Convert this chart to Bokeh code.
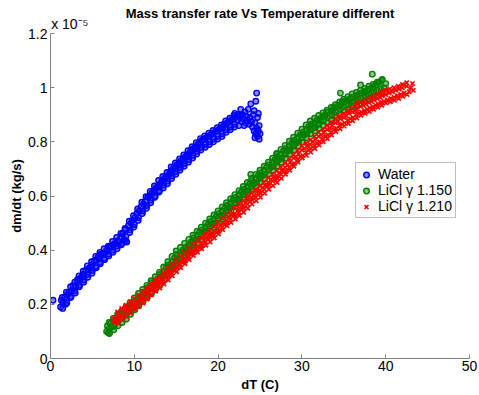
from bokeh.plotting import figure
from bokeh.models import Legend, LegendItem, FixedTicker, LinearAxis
from bokeh.embed import file_html
from bokeh.resources import INLINE

# dT (C), dm/dt (x 1e-5 kg/s)
water_pts = [(0.3, 0.215),
    (1.2, 0.19), (1.3, 0.215), (1.5, 0.205), (1.7, 0.225), (1.8, 0.20), (2.0, 0.235),
    (2.2, 0.245), (2.4, 0.225), (2.5, 0.25), (2.7, 0.27), (2.9, 0.25), (3.0, 0.265),
    (3.2, 0.29), (3.4, 0.27), (3.5, 0.295), (3.7, 0.30), (3.9, 0.31), (4.0, 0.29),
    (4.2, 0.325), (4.4, 0.31), (4.5, 0.33), (4.7, 0.335), (4.9, 0.345), (5.0, 0.325),
    (5.2, 0.36), (5.4, 0.34), (5.5, 0.365), (5.7, 0.375), (5.9, 0.355), (6.0, 0.385),
    (6.2, 0.385), (6.4, 0.37), (6.5, 0.39), (6.7, 0.40), (6.9, 0.385), (7.0, 0.41),
    (7.2, 0.415), (7.4, 0.40), (7.5, 0.42), (7.7, 0.425), (7.9, 0.415), (8.0, 0.435),
    (8.2, 0.43), (8.4, 0.45), (8.5, 0.425), (8.6, 0.46), (8.8, 0.44), (8.9, 0.475),
    (9.0, 0.45), (9.1, 0.43), (9.3, 0.49), (9.5, 0.475), (9.6, 0.50), (9.8, 0.51),
    (10.0, 0.495), (10.1, 0.52), (10.3, 0.535), (10.5, 0.52), (10.6, 0.545), (10.8, 0.56),
    (11.0, 0.545), (11.1, 0.57), (11.3, 0.58), (11.5, 0.565), (11.6, 0.595), (11.8, 0.60),
    (12.0, 0.585), (12.1, 0.61), (12.3, 0.62), (12.5, 0.60), (12.6, 0.63), (12.8, 0.635),
    (13.0, 0.62), (13.1, 0.645), (13.3, 0.655), (13.5, 0.64), (13.6, 0.665), (13.8, 0.67),
    (14.0, 0.655), (14.1, 0.68), (14.3, 0.69), (14.5, 0.675), (14.6, 0.70), (14.8, 0.705),
    (15.0, 0.69), (15.1, 0.715), (15.3, 0.72), (15.5, 0.705), (15.6, 0.73), (15.8, 0.735),
    (16.0, 0.72), (16.1, 0.745), (16.3, 0.75), (16.5, 0.735), (16.6, 0.76), (16.8, 0.77),
    (17.0, 0.75), (17.1, 0.775), (17.3, 0.78), (17.5, 0.765), (17.6, 0.79), (17.8, 0.795),
    (18.0, 0.78), (18.1, 0.805), (18.3, 0.81), (18.5, 0.79), (18.6, 0.815), (18.8, 0.82),
    (19.0, 0.80), (19.1, 0.825), (19.3, 0.83), (19.5, 0.81), (19.6, 0.835), (19.8, 0.84),
    (20.0, 0.82), (20.1, 0.845), (20.3, 0.85), (20.5, 0.83), (20.6, 0.855), (20.8, 0.865),
    (21.0, 0.845), (21.1, 0.87), (21.3, 0.875), (21.5, 0.855), (21.6, 0.88), (21.8, 0.885),
    (22.0, 0.865), (22.1, 0.89), (22.0, 0.905), (22.3, 0.88), (22.4, 0.90), (22.5, 0.86),
    (22.6, 0.895), (22.7, 0.92), (22.8, 0.875), (22.9, 0.90), (23.0, 0.885), (23.1, 0.86),
    (23.2, 0.91), (23.3, 0.87), (23.4, 0.895), (23.5, 0.88), (23.6, 0.92), (23.7, 0.865),
    (23.8, 0.89), (23.9, 0.94), (24.0, 0.875), (24.1, 0.855), (24.2, 0.90), (24.3, 0.84),
    (24.3, 0.915), (24.4, 0.87), (24.5, 0.83), (24.5, 0.95), (24.6, 0.85), (24.6, 0.98),
    (24.7, 0.82), (24.7, 0.89), (24.8, 0.84), (24.9, 0.81), (24.9, 0.86), (25.0, 0.83),
    (24.8, 0.905), (24.4, 0.815)]

water_edge_pts = [
    (1.4, 0.225), (1.45, 0.185), (1.9, 0.245), (1.95, 0.205), (2.4, 0.265), (2.45, 0.228),
    (2.9, 0.282), (2.95, 0.242), (3.4, 0.305), (3.45, 0.265), (3.9, 0.322), (3.95, 0.282),
    (4.4, 0.342), (4.45, 0.30), (4.9, 0.357), (4.95, 0.315), (5.4, 0.377), (5.45, 0.335),
    (5.9, 0.392), (5.95, 0.35), (6.4, 0.405), (6.45, 0.365), (6.9, 0.415), (6.95, 0.378),
    (7.4, 0.432), (7.45, 0.392), (7.9, 0.447), (7.95, 0.405), (8.4, 0.462), (8.45, 0.42),
    (8.9, 0.48), (8.95, 0.435), (9.4, 0.507), (9.45, 0.465), (9.9, 0.527), (9.95, 0.485),
    (10.4, 0.552), (10.45, 0.51), (10.9, 0.577), (10.95, 0.535), (11.4, 0.597), (11.45, 0.555),
    (11.9, 0.617), (11.95, 0.575), (12.4, 0.637), (12.45, 0.595), (12.9, 0.657), (12.95, 0.615),
    (13.4, 0.672), (13.45, 0.63), (13.9, 0.687), (13.95, 0.645), (14.4, 0.707), (14.45, 0.665),
    (14.9, 0.722), (14.95, 0.68), (15.4, 0.737), (15.45, 0.695), (15.9, 0.752), (15.95, 0.71),
    (16.4, 0.767), (16.45, 0.725), (16.9, 0.782), (16.95, 0.74), (17.4, 0.797), (17.45, 0.755),
    (17.9, 0.812), (17.95, 0.77), (18.4, 0.822), (18.45, 0.78), (18.9, 0.832), (18.95, 0.79),
    (19.4, 0.842), (19.45, 0.80), (19.9, 0.852), (19.95, 0.81), (20.4, 0.862), (20.45, 0.82),
    (20.9, 0.877), (20.95, 0.835), (21.4, 0.887), (21.45, 0.845), (21.9, 0.897), (21.95, 0.855)]

licl150_pts = [
    (6.7, 0.10), (6.8, 0.12), (6.9, 0.095), (7.0, 0.11), (7.2, 0.13), (7.3, 0.115),
    (7.5, 0.14), (7.6, 0.12), (7.8, 0.145), (8.0, 0.135), (8.1, 0.155), (8.3, 0.145),
    (8.5, 0.165), (8.6, 0.15), (8.8, 0.17), (9.0, 0.16), (9.1, 0.18), (9.3, 0.175),
    (9.5, 0.19), (9.6, 0.175), (9.8, 0.20), (10.0, 0.19), (10.1, 0.21), (10.3, 0.205),
    (10.5, 0.22), (10.6, 0.205), (10.8, 0.23), (11.0, 0.225), (11.1, 0.245), (11.3, 0.235),
    (11.5, 0.25), (11.6, 0.24), (11.8, 0.265), (12.0, 0.26), (12.1, 0.28), (12.3, 0.27),
    (12.5, 0.285), (12.6, 0.275), (12.8, 0.295), (13.0, 0.29), (13.1, 0.31), (13.3, 0.305),
    (13.5, 0.32), (13.6, 0.305), (13.8, 0.335), (14.0, 0.325), (14.1, 0.345), (14.3, 0.335),
    (14.5, 0.355), (14.6, 0.345), (14.8, 0.37), (15.0, 0.36), (15.1, 0.385), (15.3, 0.37),
    (15.5, 0.39), (15.6, 0.38), (15.8, 0.40), (16.0, 0.39), (16.1, 0.41), (16.3, 0.40),
    (16.5, 0.42), (16.6, 0.41), (16.8, 0.43), (17.0, 0.42), (17.1, 0.445), (17.3, 0.435),
    (17.5, 0.455), (17.6, 0.44), (17.8, 0.465), (18.0, 0.455), (18.1, 0.475), (18.3, 0.465),
    (18.5, 0.485), (18.6, 0.47), (18.8, 0.495), (19.0, 0.485), (19.1, 0.505), (19.3, 0.495),
    (19.5, 0.515), (19.6, 0.50), (19.8, 0.525), (20.0, 0.515), (20.1, 0.535), (20.3, 0.525),
    (20.5, 0.545), (20.6, 0.53), (20.8, 0.555), (21.0, 0.545), (21.1, 0.565), (21.3, 0.555),
    (21.5, 0.575), (21.6, 0.56), (21.8, 0.585), (22.0, 0.575), (22.1, 0.595), (22.3, 0.585),
    (22.5, 0.605), (22.6, 0.59), (22.8, 0.615), (23.0, 0.605), (23.1, 0.625), (23.3, 0.615),
    (23.5, 0.635), (23.6, 0.62), (23.8, 0.645), (23.9, 0.68), (24.0, 0.635), (24.1, 0.655),
    (24.3, 0.645), (24.5, 0.665), (24.6, 0.65), (24.8, 0.675), (25.0, 0.665), (25.1, 0.685),
    (25.3, 0.675), (25.5, 0.695), (25.6, 0.68), (25.8, 0.705), (26.0, 0.695), (26.1, 0.715),
    (26.3, 0.705), (26.5, 0.725), (26.6, 0.71), (26.8, 0.735), (27.0, 0.725), (27.0, 0.755),
    (27.1, 0.745), (27.3, 0.735), (27.5, 0.755), (27.6, 0.74), (27.8, 0.765), (28.0, 0.755),
    (28.1, 0.775), (28.3, 0.765), (28.5, 0.785), (28.6, 0.77), (28.8, 0.795), (29.0, 0.785),
    (29.1, 0.805), (29.3, 0.795), (29.5, 0.815), (29.6, 0.80), (29.8, 0.825), (30.0, 0.815),
    (30.1, 0.835), (30.3, 0.825), (30.5, 0.845), (30.6, 0.83), (30.8, 0.855), (31.0, 0.845),
    (31.1, 0.865), (31.3, 0.85), (31.5, 0.87), (31.6, 0.855), (31.8, 0.88), (32.0, 0.865),
    (32.1, 0.885), (32.3, 0.875), (32.5, 0.895), (32.6, 0.88), (32.8, 0.90), (33.0, 0.89),
    (33.1, 0.91), (33.3, 0.895), (33.5, 0.915), (33.6, 0.90), (33.8, 0.925), (34.0, 0.91),
    (34.1, 0.93), (34.3, 0.915), (34.5, 0.935), (34.6, 0.98), (34.6, 0.92), (34.8, 0.945),
    (35.0, 0.93), (35.1, 0.95), (35.3, 0.935), (35.5, 0.955), (35.6, 0.94), (35.8, 0.96),
    (36.0, 0.945), (36.1, 0.965), (36.3, 0.95), (36.5, 0.97), (36.6, 0.955), (36.8, 0.975),
    (37.0, 0.96), (37.0, 1.01), (37.1, 0.98), (37.3, 0.965), (37.5, 0.985), (37.6, 0.97),
    (37.8, 0.99), (38.0, 0.975), (38.1, 0.995), (38.3, 0.98), (38.4, 1.05), (38.5, 1.0),
    (38.6, 0.985), (38.8, 1.01), (39.0, 0.99), (39.2, 1.02), (39.4, 0.995), (39.6, 1.03),
    (39.8, 1.0), (40.0, 1.015)]

licl150_edge_pts = [
    (7.0, 0.133), (7.05, 0.092), (7.5, 0.148), (7.55, 0.106), (8.0, 0.163), (8.05, 0.121),
    (8.5, 0.176), (8.55, 0.133), (9.0, 0.19), (9.05, 0.146), (9.5, 0.206), (9.55, 0.163),
    (10.0, 0.224), (10.05, 0.18), (10.5, 0.24), (10.55, 0.195), (11.0, 0.255), (11.05, 0.21),
    (11.5, 0.27), (11.55, 0.225), (12.0, 0.287), (12.05, 0.24), (12.5, 0.302), (12.55, 0.255),
    (13.0, 0.318), (13.05, 0.27), (13.5, 0.338), (13.55, 0.29), (14.0, 0.357), (14.05, 0.31),
    (14.5, 0.377), (14.55, 0.33), (15.0, 0.397), (15.05, 0.35), (15.5, 0.41), (15.55, 0.365),
    (16.0, 0.425), (16.05, 0.38), (16.5, 0.44), (16.55, 0.395), (17.0, 0.455), (17.05, 0.41),
    (17.5, 0.47), (17.55, 0.425), (18.0, 0.485), (18.05, 0.44), (18.5, 0.50), (18.55, 0.455),
    (19.0, 0.515), (19.05, 0.47), (19.5, 0.53), (19.55, 0.485), (20.0, 0.545), (20.05, 0.50),
    (20.5, 0.56), (20.55, 0.515), (21.0, 0.575), (21.05, 0.53), (21.5, 0.59), (21.55, 0.545),
    (22.0, 0.605), (22.05, 0.56), (22.5, 0.62), (22.55, 0.575), (23.0, 0.635), (23.05, 0.59),
    (23.5, 0.65), (23.55, 0.605), (24.0, 0.665), (24.05, 0.62), (24.5, 0.68), (24.55, 0.635),
    (25.0, 0.695), (25.05, 0.65), (25.5, 0.71), (25.55, 0.665), (26.0, 0.725), (26.05, 0.68),
    (26.5, 0.74), (26.55, 0.695), (27.0, 0.757), (27.05, 0.71), (27.5, 0.772), (27.55, 0.725),
    (28.0, 0.787), (28.05, 0.74), (28.5, 0.802), (28.55, 0.755), (29.0, 0.817), (29.05, 0.77),
    (29.5, 0.832), (29.55, 0.785), (30.0, 0.847), (30.05, 0.80), (30.5, 0.862), (30.55, 0.815),
    (31.0, 0.877), (31.05, 0.83), (31.5, 0.887), (31.55, 0.84), (32.0, 0.897), (32.05, 0.85),
    (32.5, 0.907), (32.55, 0.86), (33.0, 0.917), (33.05, 0.87), (33.5, 0.927), (33.55, 0.88),
    (34.0, 0.937), (34.05, 0.89), (34.5, 0.947), (34.55, 0.90), (35.0, 0.957), (35.05, 0.91),
    (35.5, 0.967), (35.55, 0.92), (36.0, 0.977), (36.05, 0.93), (36.5, 0.982), (36.55, 0.935),
    (37.0, 0.99), (37.05, 0.94), (37.5, 0.997), (37.55, 0.95), (38.0, 1.005), (38.05, 0.955),
    (38.5, 1.012), (38.55, 0.965), (39.0, 1.02), (39.05, 0.97), (39.5, 1.027), (39.55, 0.98)]

licl210_pts = [
    (7.5, 0.135), (7.6, 0.15), (7.8, 0.14), (8.0, 0.155), (8.1, 0.145), (8.3, 0.16),
    (8.5, 0.155), (8.6, 0.17), (8.8, 0.16), (9.0, 0.18), (9.1, 0.17), (9.3, 0.185),
    (9.5, 0.18), (9.6, 0.195), (9.8, 0.19), (10.0, 0.205), (10.1, 0.195), (10.3, 0.21),
    (10.5, 0.205), (10.6, 0.22), (10.8, 0.215), (11.0, 0.23), (11.1, 0.22), (11.3, 0.24),
    (11.5, 0.235), (11.6, 0.25), (11.8, 0.245), (12.0, 0.26), (12.1, 0.25), (12.3, 0.265),
    (12.5, 0.26), (12.6, 0.275), (12.8, 0.27), (13.0, 0.285), (13.1, 0.275), (13.3, 0.295),
    (13.5, 0.29), (13.6, 0.305), (13.8, 0.30), (14.0, 0.315), (14.1, 0.305), (14.3, 0.32),
    (14.5, 0.315), (14.6, 0.33), (14.8, 0.325), (15.0, 0.34), (15.1, 0.335), (15.3, 0.35),
    (15.5, 0.345), (15.6, 0.36), (15.8, 0.355), (16.0, 0.37), (16.1, 0.36), (16.3, 0.38),
    (16.5, 0.375), (16.6, 0.39), (16.8, 0.385), (17.0, 0.40), (17.1, 0.39), (17.3, 0.405),
    (17.5, 0.40), (17.6, 0.415), (17.8, 0.41), (18.0, 0.425), (18.1, 0.415), (18.3, 0.435),
    (18.5, 0.43), (18.6, 0.445), (18.8, 0.44), (19.0, 0.455), (19.1, 0.445), (19.3, 0.46),
    (19.5, 0.455), (19.6, 0.47), (19.8, 0.465), (20.0, 0.48), (20.1, 0.47), (20.3, 0.49),
    (20.5, 0.485), (20.6, 0.50), (20.8, 0.495), (21.0, 0.51), (21.1, 0.50), (21.3, 0.52),
    (21.5, 0.515), (21.6, 0.53), (21.8, 0.525), (22.0, 0.535), (22.1, 0.525), (22.3, 0.545),
    (22.5, 0.54), (22.6, 0.555), (22.8, 0.55), (23.0, 0.565), (23.1, 0.555), (23.3, 0.575),
    (23.5, 0.57), (23.6, 0.585), (23.8, 0.58), (24.0, 0.595), (24.1, 0.585), (24.3, 0.60),
    (24.5, 0.595), (24.6, 0.615), (24.8, 0.61), (25.0, 0.62), (25.1, 0.61), (25.3, 0.63),
    (25.5, 0.625), (25.6, 0.64), (25.8, 0.635), (26.0, 0.65), (26.1, 0.64), (26.3, 0.66),
    (26.5, 0.655), (26.6, 0.67), (26.8, 0.66), (27.0, 0.675), (27.1, 0.665), (27.3, 0.685),
    (27.5, 0.68), (27.6, 0.695), (27.8, 0.69), (28.0, 0.705), (28.1, 0.69), (28.3, 0.715),
    (28.5, 0.705), (28.6, 0.725), (28.8, 0.715), (29.0, 0.74), (29.1, 0.72), (29.3, 0.745),
    (29.5, 0.735), (29.6, 0.755), (29.8, 0.745), (30.0, 0.77), (30.1, 0.75), (30.3, 0.775),
    (30.5, 0.76), (30.6, 0.785), (30.8, 0.77), (31.0, 0.79), (31.1, 0.775), (31.3, 0.80),
    (31.5, 0.785), (31.6, 0.81), (31.8, 0.795), (32.0, 0.82), (32.1, 0.80), (32.3, 0.825),
    (32.5, 0.81), (32.6, 0.835), (32.8, 0.82), (33.0, 0.845), (33.1, 0.825), (33.3, 0.85),
    (33.5, 0.835), (33.6, 0.86), (33.8, 0.845), (34.0, 0.87), (34.1, 0.85), (34.3, 0.875),
    (34.5, 0.86), (34.6, 0.885), (34.8, 0.865), (35.0, 0.89), (35.1, 0.87), (35.3, 0.895),
    (35.5, 0.88), (35.6, 0.905), (35.8, 0.885), (35.8, 0.915), (36.0, 0.91), (36.1, 0.89),
    (36.3, 0.915), (36.5, 0.90), (36.6, 0.945), (36.6, 0.92), (36.8, 0.905), (37.0, 0.93),
    (37.1, 0.91), (37.3, 0.935), (37.5, 0.915), (37.6, 0.94), (37.8, 0.92), (38.0, 0.945),
    (38.1, 0.925), (38.3, 0.95), (38.5, 0.93), (38.6, 0.955), (38.8, 0.935), (39.0, 0.96),
    (39.1, 0.94), (39.3, 0.965), (39.5, 0.945), (39.6, 0.97), (39.8, 0.95), (40.0, 0.975),
    (40.2, 0.99), (40.2, 0.955), (40.4, 0.98), (40.6, 0.96), (40.8, 0.985), (41.0, 0.965),
    (41.2, 0.99), (41.4, 0.97), (41.6, 0.995), (41.8, 0.975), (42.0, 1.0), (42.2, 0.98),
    (42.5, 1.005), (42.8, 0.985), (43.0, 1.0), (43.2, 1.015), (43.3, 0.99)]

licl210_edge_pts = [
    (8.0, 0.172), (8.05, 0.13), (8.5, 0.185), (8.55, 0.142), (9.0, 0.197), (9.05, 0.155),
    (9.5, 0.21), (9.55, 0.168), (10.0, 0.222), (10.05, 0.18), (10.5, 0.235), (10.55, 0.192),
    (11.0, 0.247), (11.05, 0.205), (11.5, 0.262), (11.55, 0.22), (12.0, 0.277), (12.05, 0.235),
    (12.5, 0.29), (12.55, 0.248), (13.0, 0.302), (13.05, 0.26), (13.5, 0.317), (13.55, 0.275),
    (14.0, 0.332), (14.05, 0.29), (14.5, 0.347), (14.55, 0.305), (15.0, 0.362), (15.05, 0.32),
    (15.5, 0.377), (15.55, 0.335), (16.0, 0.392), (16.05, 0.35), (16.5, 0.407), (16.55, 0.365),
    (17.0, 0.422), (17.05, 0.38), (17.5, 0.435), (17.55, 0.392), (18.0, 0.447), (18.05, 0.405),
    (18.5, 0.46), (18.55, 0.418), (19.0, 0.472), (19.05, 0.43), (19.5, 0.487), (19.55, 0.445),
    (20.0, 0.502), (20.05, 0.46), (20.5, 0.517), (20.55, 0.475), (21.0, 0.532), (21.05, 0.49),
    (21.5, 0.545), (21.55, 0.502), (22.0, 0.557), (22.05, 0.515), (22.5, 0.57), (22.55, 0.528),
    (23.0, 0.582), (23.05, 0.54), (23.5, 0.597), (23.55, 0.555), (24.0, 0.612), (24.05, 0.57),
    (24.5, 0.625), (24.55, 0.582), (25.0, 0.637), (25.05, 0.595), (25.5, 0.652), (25.55, 0.61),
    (26.0, 0.667), (26.05, 0.625), (26.5, 0.68), (26.55, 0.638), (27.0, 0.692), (27.05, 0.65),
    (27.5, 0.707), (27.55, 0.665), (28.0, 0.722), (28.05, 0.68), (28.5, 0.737), (28.55, 0.695),
    (29.0, 0.752), (29.05, 0.71), (29.5, 0.767), (29.55, 0.725), (30.0, 0.785), (30.05, 0.74),
    (30.5, 0.795), (30.55, 0.75), (31.0, 0.807), (31.05, 0.762), (31.5, 0.82), (31.55, 0.775),
    (32.0, 0.835), (32.05, 0.788), (32.5, 0.847), (32.55, 0.80), (33.0, 0.86), (33.05, 0.812),
    (33.5, 0.872), (33.55, 0.825), (34.0, 0.885), (34.05, 0.838), (34.5, 0.895), (34.55, 0.848),
    (35.0, 0.905), (35.05, 0.858), (35.5, 0.915), (35.55, 0.868), (36.0, 0.925), (36.05, 0.878),
    (36.5, 0.935), (36.55, 0.888), (37.0, 0.945), (37.05, 0.898), (37.5, 0.952), (37.55, 0.905),
    (38.0, 0.96), (38.05, 0.912), (38.5, 0.967), (38.55, 0.92), (39.0, 0.975), (39.05, 0.928),
    (39.5, 0.982), (39.55, 0.935), (40.0, 0.99), (40.05, 0.943), (40.5, 0.995), (40.55, 0.948),
    (41.0, 1.0), (41.05, 0.953), (41.5, 1.005), (41.55, 0.96), (42.0, 1.012), (42.05, 0.968),
    (42.5, 1.018), (42.55, 0.975)]

series_names = ["Water", "LiCl \u03b3 1.150", "LiCl \u03b3 1.210"]
title_text = "Mass transfer rate Vs Temperature different"
x_ticks = [0, 10, 20, 30, 40, 50]
y_ticks = [0, 0.2, 0.4, 0.6, 0.8, 1.0, 1.2]
y_tick_labels = ["0", "0.2", "0.4", "0.6", "0.8", "1", "1.2"]
exponent_text = "x 10\u207b\u2075"

FONT = "Liberation Sans"
AX = "#808080"

p = figure(width=479, height=395, x_range=(0, 50), y_range=(0, 1.2),
           output_backend="svg", toolbar_location=None, title_location=None,
           min_border_left=50, min_border_right=10, min_border_top=33, min_border_bottom=37)
p.outline_line_color = None
p.xgrid.visible = False
p.ygrid.visible = False
p.background_fill_color = "white"

def unz(pts):
    return [a for a, b in pts], [b for a, b in pts]

wx, wy = unz(water_pts + water_edge_pts)
gx, gy = unz(licl150_pts + licl150_edge_pts)
rx, ry = unz(licl210_pts + licl210_edge_pts)

r1 = p.scatter(wx, wy, marker="circle", size=5.5, fill_color="#0000ff", fill_alpha=0.45,
               line_color="#0000ff", line_width=1.4)
r2 = p.scatter(gx, gy, marker="circle", size=5.5, fill_color="#008000", fill_alpha=0.45,
               line_color="#008000", line_width=1.4)
r3 = p.scatter(rx, ry, marker="x", size=6, line_color="#ff0000", line_width=1.7)

for ax in (p.xaxis[0], p.yaxis[0]):
    ax.axis_line_color = AX
    ax.major_tick_line_color = AX
    ax.major_tick_in = 4
    ax.major_tick_out = 0
    ax.minor_tick_line_color = None
    ax.major_label_text_font = FONT
    ax.major_label_text_font_size = "14px"
    ax.major_label_text_color = "black"
    ax.axis_label_text_font = FONT
    ax.axis_label_text_font_size = "13px"
    ax.axis_label_text_font_style = "bold"
    ax.axis_label_text_color = "black"

p.xaxis[0].ticker = FixedTicker(ticks=x_ticks)
p.yaxis[0].ticker = FixedTicker(ticks=y_ticks)
p.yaxis[0].major_label_overrides = {t: l for t, l in zip(y_ticks, y_tick_labels)}
p.xaxis[0].major_label_standoff = 2
p.yaxis[0].major_label_standoff = 3
p.xaxis[0].axis_label = "dT (C)"
p.yaxis[0].axis_label = "dm/dt (kg/s)"
p.xaxis[0].axis_label_standoff = 3
p.yaxis[0].axis_label_standoff = 1

# top axis: carries the y-axis exponent ("x 10^-5") and, as its label, the title
exp_pos = 2.3
exp_axis = LinearAxis(ticker=FixedTicker(ticks=[exp_pos]),
                      major_label_overrides={exp_pos: exponent_text},
                      axis_line_color=None, major_tick_line_color=None,
                      minor_tick_line_color=None, major_label_standoff=-4,
                      major_label_text_font=FONT, major_label_text_font_size="14px",
                      major_label_text_color="black", major_label_text_baseline="middle",
                      axis_label=title_text, axis_label_standoff=-8,
                      axis_label_text_font=FONT, axis_label_text_font_size="13px",
                      axis_label_text_font_style="bold", axis_label_text_color="black")
p.add_layout(exp_axis, "above")

legend = Legend(items=[LegendItem(label=series_names[0], renderers=[r1]),
                       LegendItem(label=series_names[1], renderers=[r2]),
                       LegendItem(label=series_names[2], renderers=[r3])],
                location=(305, 140))
legend.border_line_color = AX
legend.border_line_width = 1
legend.background_fill_color = "white"
legend.background_fill_alpha = 1
legend.padding = 3
legend.spacing = 0
legend.margin = 0
legend.glyph_width = 14
legend.glyph_height = 15
legend.label_height = 15
legend.label_standoff = 5
legend.label_text_font = FONT
legend.label_text_font_size = "14px"
legend.label_text_color = "black"
p.add_layout(legend, "center")

open("out.html", "w").write(file_html(p, INLINE))
